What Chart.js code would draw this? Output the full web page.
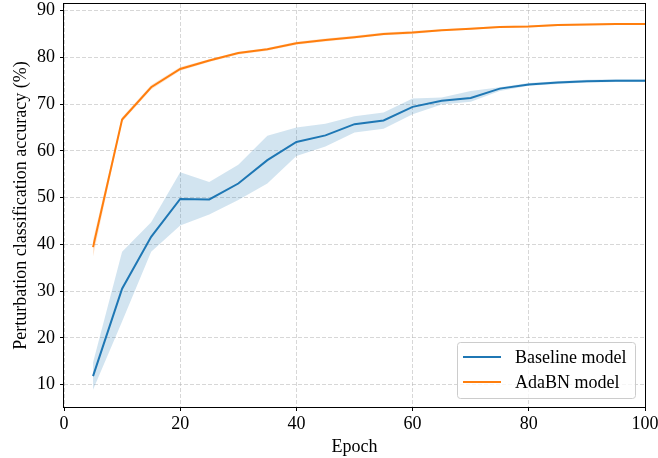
<!DOCTYPE html>
<html>
<head>
<meta charset="utf-8">
<script src="https://cdn.jsdelivr.net/npm/chart.js@4/dist/chart.umd.min.js"></script>
<style>
  html, body { margin: 0; padding: 0; background: #fff; }
  #wrap { width: 658px; height: 458px; }
</style>
</head>
<body>
<div id="wrap"><canvas id="accChart"></canvas></div>
<script>
// epochs and accuracies
const epochs = [5, 10, 15, 20, 25, 30, 35, 40, 45, 50, 55, 60, 65, 70, 75, 80, 85, 90, 95, 100];

const baseMean  = [11.8, 30.5, 41.6, 49.7, 49.6, 53.0, 58.0, 61.9, 63.3, 65.7, 66.5, 69.4, 70.7, 71.3, 73.3, 74.2, 74.6, 74.9, 75.0, 75.0];
const baseUpper = [14.7, 38.4, 44.7, 55.4, 53.3, 57.0, 63.2, 65.0, 65.8, 67.4, 68.2, 71.2, 71.4, 72.8, 73.6, 74.5, 74.9, 75.2, 75.3, 75.3];
const baseLower = [ 8.9, 23.5, 38.4, 44.0, 46.4, 49.5, 53.0, 58.9, 60.9, 63.9, 64.7, 67.8, 69.9, 70.5, 72.8, 73.9, 74.3, 74.6, 74.7, 74.7];

const adaMean  = [39.4, 66.7, 73.6, 77.5, 79.3, 80.9, 81.7, 83.0, 83.7, 84.3, 85.0, 85.3, 85.8, 86.1, 86.5, 86.6, 86.9, 87.0, 87.1, 87.1];
const adaUpper = [41.0, 67.2, 74.1, 77.9, 79.6, 81.2, 82.0, 83.3, 84.0, 84.6, 85.3, 85.6, 86.0, 86.3, 86.7, 86.8, 87.1, 87.2, 87.3, 87.3];
const adaLower = [37.4, 66.2, 73.1, 77.1, 79.0, 80.6, 81.4, 82.7, 83.4, 84.0, 84.7, 85.0, 85.6, 85.9, 86.3, 86.4, 86.7, 86.8, 86.9, 86.9];

const xTicks = [0, 20, 40, 60, 80, 100];
const yTicks = [10, 20, 30, 40, 50, 60, 70, 80, 90];

const seriesNames = ["Baseline model", "AdaBN model"];
const blue = "#1f77b4";
const orange = "#ff7f0e";
const FONT = "'Liberation Serif', 'DejaVu Serif', serif";
const FS = 18;

function pts(vals) {
  return epochs.map((e, i) => ({ x: e, y: vals[i] }));
}

// frame around the axes + legend box in the lower right, like matplotlib
const framePlugin = {
  id: "frame",
  afterDraw(chart) {
    const ctx = chart.ctx;
    const a = chart.chartArea;
    ctx.save();
    ctx.strokeStyle = "#000";
    ctx.lineWidth = 1;
    ctx.strokeRect(a.left - 0.5, a.top - 0.5, a.right - a.left + 1, a.bottom - a.top + 1);

    // legend
    const w = 178, h = 56;
    const lx = a.right - w - 10, ly = a.bottom - h - 9;
    ctx.fillStyle = "rgba(255,255,255,0.8)";
    ctx.strokeStyle = "#cccccc";
    ctx.beginPath();
    ctx.roundRect(lx + 0.5, ly + 0.5, w, h, 3);
    ctx.fill();
    ctx.stroke();
    ctx.font = FS + "px " + FONT;
    ctx.textBaseline = "middle";
    ctx.fillStyle = "#000";
    [blue, orange].forEach((c, i) => {
      const yy = ly + 15 + i * 25;
      ctx.strokeStyle = c;
      ctx.lineWidth = 2;
      ctx.beginPath();
      ctx.moveTo(lx + 6, yy);
      ctx.lineTo(lx + 44, yy);
      ctx.stroke();
      ctx.fillText(seriesNames[i], lx + 58, yy + 1);
    });
    ctx.restore();
  }
};

const gridStyle = {
  color: "rgba(176,176,176,0.5)",
  tickColor: "#000",
  tickLength: 4,
  tickWidth: 1,
  tickBorderDash: [],
  drawTicks: true
};

new Chart(document.getElementById("accChart"), {
  type: "line",
  data: {
    datasets: [
      { data: pts(baseLower), borderWidth: 0, pointRadius: 0, fill: false },
      { data: pts(baseUpper), borderWidth: 0, pointRadius: 0, fill: "-1", backgroundColor: "rgba(31,119,180,0.2)" },
      { data: pts(adaLower), borderWidth: 0, pointRadius: 0, fill: false },
      { data: pts(adaUpper), borderWidth: 0, pointRadius: 0, fill: "-1", backgroundColor: "rgba(255,127,14,0.2)" },
      { label: seriesNames[0], data: pts(baseMean), borderColor: blue, borderWidth: 2, pointRadius: 0, fill: false },
      { label: seriesNames[1], data: pts(adaMean), borderColor: orange, borderWidth: 2, pointRadius: 0, fill: false }
    ]
  },
  options: {
    responsive: true,
    maintainAspectRatio: false,
    animation: false,
    layout: { padding: { left: 0, top: 4, right: 13, bottom: 0 } },
    plugins: {
      legend: { display: false },
      tooltip: { enabled: false }
    },
    scales: {
      x: {
        type: "linear",
        min: 0,
        max: 100,
        afterBuildTicks: (s) => { s.ticks = xTicks.map(v => ({ value: v })); },
        afterFit: (s) => { s.height = 51; s.paddingLeft = 0; s.paddingRight = 0; },
        grid: gridStyle,
        border: { display: false, dash: [4, 2] },
        ticks: { color: "#000", font: { family: FONT, size: FS }, padding: 2, maxRotation: 0 },
        title: { display: true, text: "Epoch", color: "#000", font: { family: FONT, size: FS }, padding: { top: 0, bottom: 0 } }
      },
      y: {
        min: 5.2,
        max: 91.4,
        afterBuildTicks: (s) => { s.ticks = yTicks.map(v => ({ value: v })); },
        afterFit: (s) => { s.width = 64; s.paddingTop = 0; s.paddingBottom = 0; },
        grid: gridStyle,
        border: { display: false, dash: [4, 2] },
        ticks: { color: "#000", font: { family: FONT, size: FS }, padding: 5 },
        title: { display: true, text: "Perturbation classification accuracy (%)", color: "#000", font: { family: FONT, size: FS }, padding: { top: 10, bottom: 0 } }
      }
    }
  },
  plugins: [framePlugin]
});
</script>
</body>
</html>
